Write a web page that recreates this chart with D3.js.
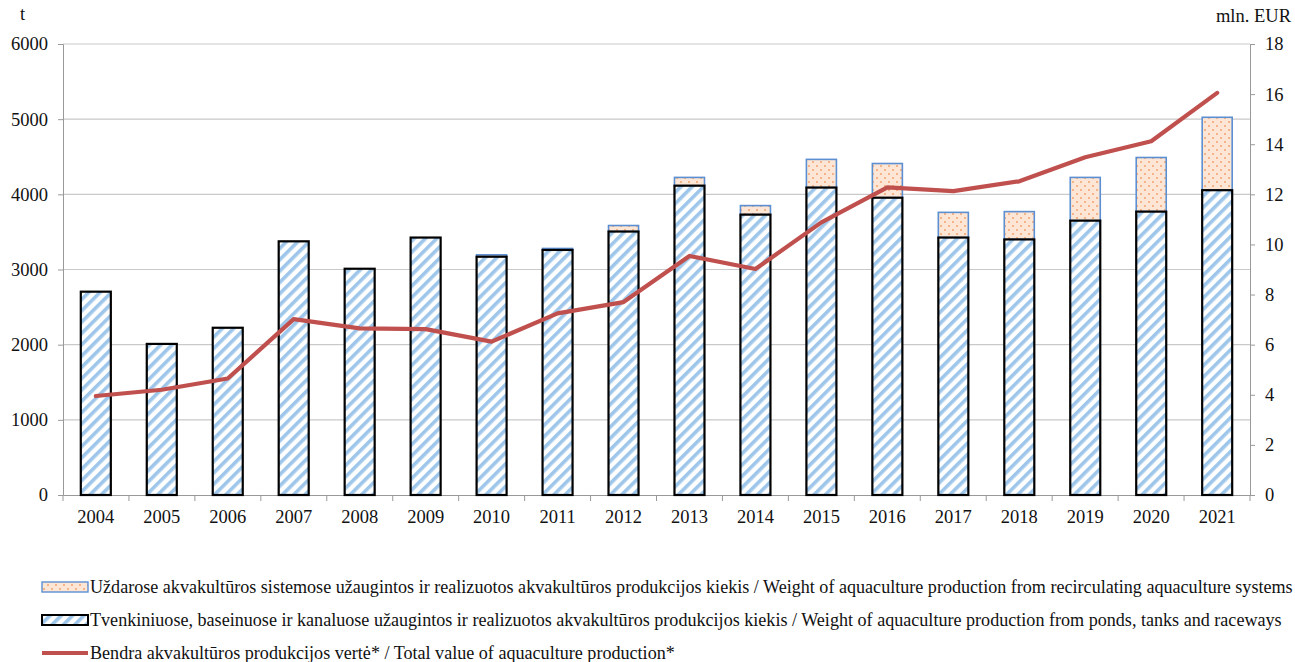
<!DOCTYPE html>
<html>
<head>
<meta charset="utf-8">
<script src="https://cdn.jsdelivr.net/npm/d3@7"></script>
<style>
  body { margin: 0; background: #fff; }
</style>
</head>
<body>
<div id="chart"></div>
<script>
const years = ["2004", "2005", "2006", "2007", "2008", "2009", "2010", "2011", "2012",
  "2013", "2014", "2015", "2016", "2017", "2018", "2019", "2020", "2021"];
const pondsWeight = [2705, 2010, 2225, 3375, 3010, 3425, 3170, 3260, 3505,
  4115, 3730, 4090, 3955, 3425, 3400, 3650, 3770, 4055];
const rasWeight = [0, 0, 0, 0, 0, 0, 25, 20, 80,
  110, 120, 375, 455, 335, 370, 575, 720, 970];
const totalValue = [3.95, 4.2, 4.65, 7.02, 6.65, 6.62, 6.12, 7.25, 7.7,
  9.54, 9.02, 10.88, 12.28, 12.13, 12.52, 13.48, 14.12, 16.05];
const leftTicks = [0, 1000, 2000, 3000, 4000, 5000, 6000];
const rightTicks = [0, 2, 4, 6, 8, 10, 12, 14, 16, 18];
const legendLabels = [
  "Uždarose akvakultūros sistemose užaugintos ir realizuotos akvakultūros produkcijos kiekis / Weight of aquaculture production from recirculating aquaculture systems",
  "Tvenkiniuose, baseinuose ir kanaluose užaugintos ir realizuotos akvakultūros produkcijos kiekis / Weight of aquaculture production from ponds, tanks and raceways",
  "Bendra akvakultūros produkcijos vertė* / Total value of aquaculture production*"
];

const FONT = "Liberation Serif";
const W = 1295, H = 662;
const margin = { top: 44, right: 45, bottom: 167, left: 63 };
const width = W - margin.left - margin.right;
const height = H - margin.top - margin.bottom;

const svg = d3.select("#chart").append("svg")
  .attr("width", W).attr("height", H);

const defs = svg.append("defs");
const hatch = defs.append("pattern")
  .attr("id", "hatch").attr("patternUnits", "userSpaceOnUse")
  .attr("width", 8).attr("height", 8)
  .attr("patternTransform", "rotate(45)");
hatch.append("rect").attr("width", 8).attr("height", 8).attr("fill", "#fff");
hatch.append("rect").attr("width", 3.6).attr("height", 8).attr("fill", "#9dc6ea");

const dots = defs.append("pattern")
  .attr("id", "dots").attr("patternUnits", "userSpaceOnUse")
  .attr("width", 8).attr("height", 8);
dots.append("rect").attr("width", 8).attr("height", 8).attr("fill", "#fde6d5");
dots.append("rect").attr("x", 1).attr("y", 1).attr("width", 2).attr("height", 2).attr("fill", "#f5b487");
dots.append("rect").attr("x", 5).attr("y", 5).attr("width", 2).attr("height", 2).attr("fill", "#f5b487");

const g = svg.append("g").attr("transform", `translate(${margin.left},${margin.top})`);

const x = d3.scaleBand().domain(years).range([0, width]).paddingInner(0.545).paddingOuter(0.27);
const band = width / years.length;
const y = d3.scaleLinear().domain([0, 6000]).range([height, 0]);
const y2 = d3.scaleLinear().domain([0, 18]).range([height, 0]);

// grid
g.append("g").selectAll("line").data(leftTicks.slice(1)).join("line")
  .attr("x1", 0).attr("x2", width)
  .attr("y1", d => y(d)).attr("y2", d => y(d))
  .attr("stroke", "#c9c9c9").attr("stroke-width", 1.2);

const styleText = sel => sel.selectAll("text")
  .style("font-family", FONT).style("font-size", "18.5px").attr("fill", "#111");

// left axis
const yAxis = g.append("g").call(d3.axisLeft(y).tickValues(leftTicks).tickSize(5).tickPadding(10).tickFormat(d3.format("d")));
yAxis.selectAll("line, path").attr("stroke", "#999");
styleText(yAxis);

// right axis
const yAxis2 = g.append("g").attr("transform", `translate(${width},0)`)
  .call(d3.axisRight(y2).tickValues(rightTicks).tickSize(5).tickPadding(10));
yAxis2.selectAll("line, path").attr("stroke", "#999");
styleText(yAxis2);

// x axis
const xAxis = g.append("g").attr("transform", `translate(0,${height})`)
  .call(d3.axisBottom(x).tickSize(0).tickPadding(15));
xAxis.select(".domain").attr("stroke", "#999");
styleText(xAxis);
xAxis.selectAll(".sep").data(d3.range(years.length + 1)).join("line")
  .attr("class", "sep")
  .attr("x1", i => i * band).attr("x2", i => i * band)
  .attr("y1", 0).attr("y2", 6).attr("stroke", "#999");

// axis units
svg.append("text").attr("x", 20).attr("y", 20)
  .style("font-family", FONT).style("font-size", "18.5px").attr("fill", "#111").text("t");
svg.append("text").attr("x", W - 4).attr("y", 22).attr("text-anchor", "end")
  .style("font-family", FONT).style("font-size", "18.5px").attr("fill", "#111").text("mln. EUR");

// bars
const bars = g.append("g");
bars.selectAll(".ras").data(years).join("rect")
  .attr("class", "ras")
  .attr("x", d => x(d)).attr("width", x.bandwidth())
  .attr("y", (d, i) => y(pondsWeight[i] + rasWeight[i]))
  .attr("height", (d, i) => y(pondsWeight[i]) - y(pondsWeight[i] + rasWeight[i]))
  .attr("fill", "url(#dots)").attr("stroke", "#5b8fd2").attr("stroke-width", 1.6)
  .style("display", (d, i) => rasWeight[i] > 0 ? null : "none");
bars.selectAll(".ponds").data(years).join("rect")
  .attr("class", "ponds")
  .attr("x", d => x(d)).attr("width", x.bandwidth())
  .attr("y", (d, i) => y(pondsWeight[i]))
  .attr("height", (d, i) => height - y(pondsWeight[i]))
  .attr("fill", "url(#hatch)").attr("stroke", "#000").attr("stroke-width", 2.2);

// line
const line = d3.line()
  .x((d, i) => x(years[i]) + x.bandwidth() / 2)
  .y(d => y2(d));
g.append("path").datum(totalValue)
  .attr("d", line).attr("fill", "none")
  .attr("stroke", "#c0504d").attr("stroke-width", 4.2)
  .attr("stroke-linejoin", "round").attr("stroke-linecap", "round");

// legend
const legend = svg.append("g").attr("transform", "translate(42,587)");
const rowGap = 33;
legend.append("rect").attr("x", 0).attr("y", -5).attr("width", 46).attr("height", 10)
  .attr("fill", "url(#dots)").attr("stroke", "#5b8fd2").attr("stroke-width", 1.4);
legend.append("rect").attr("x", 0).attr("y", rowGap - 5).attr("width", 46).attr("height", 10)
  .attr("fill", "url(#hatch)").attr("stroke", "#000").attr("stroke-width", 2);
legend.append("line").attr("x1", 0).attr("x2", 46).attr("y1", rowGap * 2).attr("y2", rowGap * 2)
  .attr("stroke", "#c0504d").attr("stroke-width", 4.2);
legend.selectAll(".lbl").data(legendLabels).join("text")
  .attr("class", "lbl")
  .attr("x", 48).attr("y", (d, i) => i * rowGap + 6)
  .style("font-family", FONT).style("font-size", "18.1px").attr("fill", "#111")
  .text(d => d);
</script>
</body>
</html>
